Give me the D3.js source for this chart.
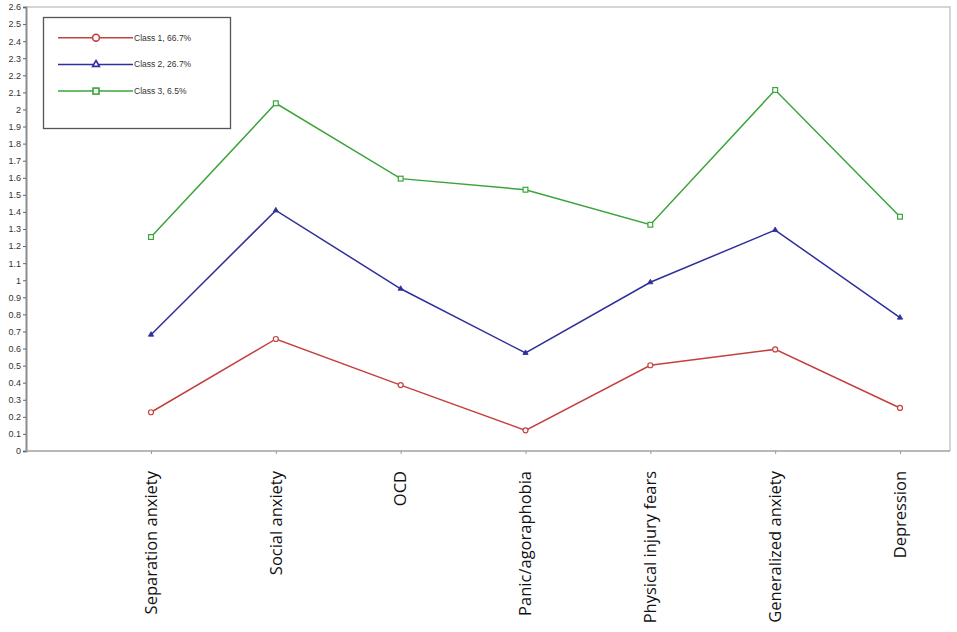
<!DOCTYPE html>
<html>
<head>
<meta charset="utf-8">
<script src="https://cdn.jsdelivr.net/npm/d3@7"></script>
<style>
  body { margin: 0; background: #fff; }
  svg { display: block; }
</style>
</head>
<body>
<svg width="957" height="632"></svg>
<script>
const categories = ["Separation anxiety", "Social anxiety", "OCD", "Panic/agoraphobia",
                    "Physical injury fears", "Generalized anxiety", "Depression"];
const class1 = [0.227, 0.656, 0.386, 0.121, 0.502, 0.595, 0.252];
const class2 = [0.681, 1.409, 0.950, 0.574, 0.988, 1.294, 0.781];
const class3 = [1.253, 2.036, 1.595, 1.530, 1.325, 2.114, 1.372];
const seriesNames = ["Class 1, 66.7%", "Class 2, 26.7%", "Class 3, 6.5%"];
const yTicks = d3.range(0, 27).map(i => i / 10);

const svg = d3.select('svg');

// plot frame in pixels
const frame = {"left": 26, "right": 950, "top": 7, "bottom": 451};

const xScale = d3.scalePoint()
    .domain(categories)
    .range([151, 900]);

const yScale = d3.scaleLinear()
    .domain([0, 2.6])
    .range([frame.bottom, frame.top]);

const series = [
    {name: seriesNames[0], values: class1, color: "#c4403f", marker: "circle"},
    {name: seriesNames[1], values: class2, color: "#2f2f9c", marker: "triangle"},
    {name: seriesNames[2], values: class3, color: "#3ba43b", marker: "square"}
];

// light frame on top and right
svg.append("path")
    .attr("d", `M${frame.left},${frame.top}H${frame.right}V${frame.bottom}`)
    .attr("fill", "none")
    .attr("stroke", "#c8c8c8")
    .attr("stroke-width", 1.5);

// y axis
const yAxis = svg.append("g")
    .attr("transform", `translate(${frame.left},0)`)
    .call(d3.axisLeft(yScale)
        .tickValues(yTicks)
        .tickSize(3)
        .tickPadding(2)
        .tickFormat(d => String(+d.toFixed(1))));
yAxis.select(".domain").attr("stroke", "#8c8c8c").attr("stroke-width", 2);
yAxis.selectAll(".tick line").attr("stroke", "#666");
yAxis.selectAll("text")
    .attr("font-family", "Liberation Sans, Arial, sans-serif")
    .attr("font-size", 9)
    .attr("fill", "#333");

// x axis
const xAxis = svg.append("g")
    .attr("transform", `translate(0,${frame.bottom})`)
    .call(d3.axisBottom(xScale).tickSize(3).tickSizeOuter(0).tickFormat(""));
xAxis.select(".domain")
    .attr("d", `M${frame.left},0H${frame.right}`)
    .attr("stroke", "#a0a0a0")
    .attr("stroke-width", 1.5);
xAxis.selectAll(".tick line").attr("stroke", "#999");

// rotated category labels
svg.append("g")
    .selectAll("text")
    .data(categories)
    .enter()
    .append("text")
    .attr("transform", d => `translate(${xScale(d)},471) rotate(-90)`)
    .attr("dy", "0.35em")
    .attr("text-anchor", "end")
    .attr("font-family", "Open Sans, sans-serif")
    .attr("font-size", 16.5)
    .attr("fill", "#111")
    .text(d => d);

const line = d3.line()
    .x((d, i) => xScale(categories[i]))
    .y(d => yScale(d));

const drawMarker = (g, type, color, x, y) => {
    if (type === "circle") {
        g.append("circle").attr("cx", x).attr("cy", y).attr("r", 2.5)
            .attr("fill", "#fff").attr("stroke", color).attr("stroke-width", 1.2);
    } else if (type === "triangle") {
        g.append("path")
            .attr("d", d3.symbol().type(d3.symbolTriangle).size(12)())
            .attr("transform", `translate(${x},${y})`)
            .attr("fill", color).attr("stroke", color).attr("stroke-width", 0.8);
    } else {
        g.append("rect").attr("x", x - 2.4).attr("y", y - 2.4)
            .attr("width", 4.8).attr("height", 4.8)
            .attr("fill", "#fff").attr("stroke", color).attr("stroke-width", 1.2);
    }
};

// lines and markers
series.forEach(s => {
    const g = svg.append("g");
    g.append("path")
        .datum(s.values)
        .attr("d", line)
        .attr("fill", "none")
        .attr("stroke", s.color)
        .attr("stroke-width", 1.5);
    s.values.forEach((v, i) => drawMarker(g, s.marker, s.color, xScale(categories[i]), yScale(v)));
});

// legend
const legend = svg.append("g");
legend.append("rect")
    .attr("x", 43.5).attr("y", 17.5)
    .attr("width", 187).attr("height", 111)
    .attr("fill", "#fff")
    .attr("stroke", "#555")
    .attr("stroke-width", 1.3);

series.forEach((s, i) => {
    const y = 37.7 + i * 26.7;
    legend.append("line")
        .attr("x1", 58).attr("x2", 133)
        .attr("y1", y).attr("y2", y)
        .attr("stroke", s.color)
        .attr("stroke-width", 1.5);
    const mg = legend.append("g");
    if (s.marker === "circle") {
        mg.append("circle").attr("cx", 96).attr("cy", y).attr("r", 3.4)
            .attr("fill", "#fff").attr("stroke", s.color).attr("stroke-width", 1.6);
    } else if (s.marker === "triangle") {
        mg.append("path")
            .attr("d", d3.symbol().type(d3.symbolTriangle).size(20)())
            .attr("transform", `translate(96,${y})`)
            .attr("fill", "#fff").attr("stroke", s.color).attr("stroke-width", 1.6);
    } else {
        mg.append("rect").attr("x", 93).attr("y", y - 3)
            .attr("width", 6).attr("height", 6)
            .attr("fill", "#fff").attr("stroke", s.color).attr("stroke-width", 1.6);
    }
    legend.append("text")
        .attr("x", 134)
        .attr("y", y)
        .attr("dy", "0.35em")
        .attr("font-family", "Liberation Sans, Arial, sans-serif")
        .attr("font-size", 8.5)
        .attr("fill", "#333")
        .text(s.name);
});
</script>
</body>
</html>
